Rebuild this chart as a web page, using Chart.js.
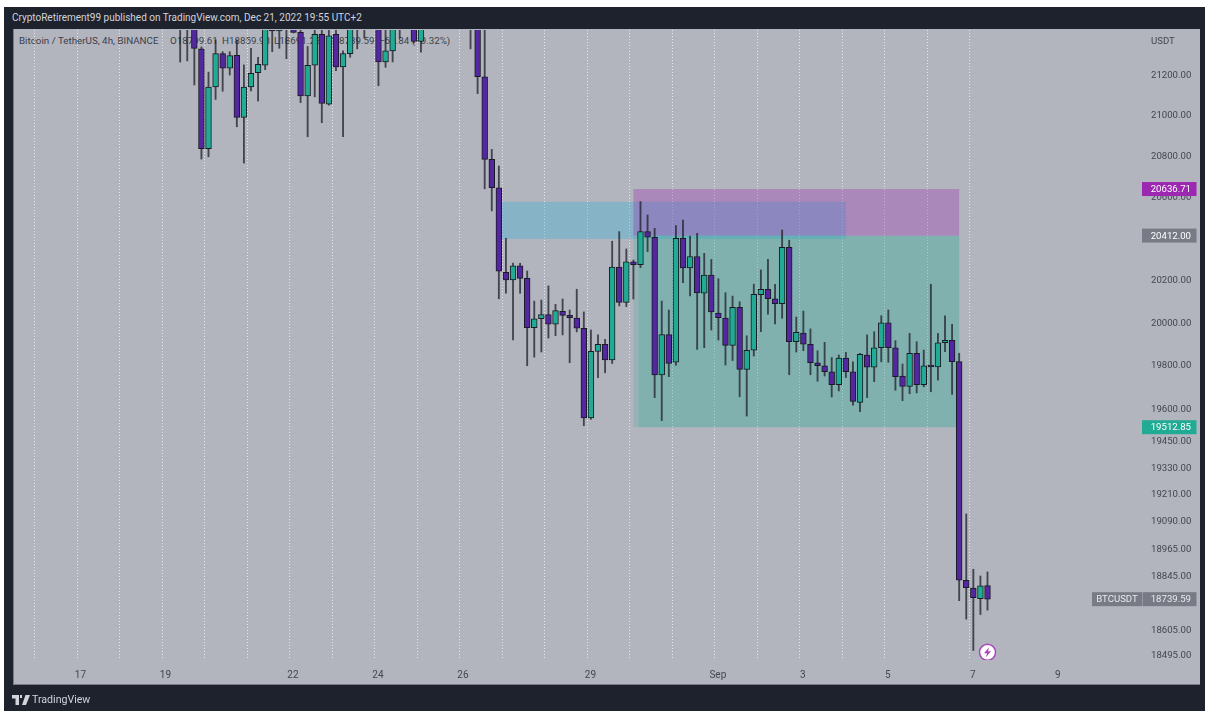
<!DOCTYPE html>
<html>
<head>
<meta charset="utf-8">
<title>BTCUSDT 4h</title>
<script src="https://cdn.jsdelivr.net/npm/chart.js@4"></script>
<style>
  html, body { margin: 0; padding: 0; background: #fff; width: 1205px; height: 711px; overflow: hidden; }
  #frame { position: absolute; left: 4px; top: 7px; width: 1201px; height: 704px; background: #1e222d; }
  #panel { position: absolute; left: 13px; top: 29px; width: 1187px; height: 656px; box-sizing: border-box; background: #b2b5be; border-left: 1px solid #787b86; border-bottom: 1px solid #787b86; }
  #chart { position: absolute; left: 0; top: 0; }
  .txt { position: absolute; font-family: Roboto, sans-serif; white-space: pre; }
  #publisher { left: 12px; top: 11px; font-size: 10px; line-height: 14px; color: #d1d4dc; }
  #legend span { position: absolute; top: 34px; font-size: 9.8px; line-height: 14px; color: #3c3f49; white-space: pre; font-family: Roboto, sans-serif; }
  #currency { left: 1151px; top: 34px; font-size: 9.6px; line-height: 14px; color: #434651; }
  #brand { left: 32px; top: 693px; font-size: 10.6px; line-height: 14px; color: #d1d4dc; }
  #logo { position: absolute; left: 12px; top: 695px; }
</style>
</head>
<body>
<div id="frame"></div>
<div id="panel"></div>
<div class="txt" id="publisher">CryptoRetirement99 published on TradingView.com, Dec 21, 2022 19:55 UTC+2</div>
<div id="legend">
  <span style="left:19px">Bitcoin / TetherUS, 4h, BINANCE</span>
  <span style="left:170px">O18799.61</span>
  <span style="left:222px">H18859.98</span>
  <span style="left:274px">L18691.22</span>
  <span style="left:327px">C18739.59</span>
  <span style="left:379px">−60.84 (−0.32%)</span>
</div>
<canvas id="chart" width="1205" height="711"></canvas>
<div class="txt" id="currency">USDT</div>
<svg id="logo" width="18" height="10" viewBox="0 0 36 20"><path fill="#d1d4dc" d="M0 0h14v20H7V7H0zM16 0h4v6h-4zM22 0h14l-8 20h-8l7-20z"/></svg>
<div class="txt" id="brand">TradingView</div>

<script>
// x axis is hours since Aug 16 00:00 (UTC+2), candles are 4h apart
const firstBarHour = 82;
const barStepHours = 4;

// null = candle completely above the visible range
const opens = [
  21560, 21480, 21560, 21328, 20833, 21138, 21304, 21231, 21296, 20987,
  21138, 21209, 21247, 21500, 21418, 21520, 21520, 21411, 21094, 21246,
  21401, 21053, 21401, 21238, 21304, 21560, 21500, null, 21560, 21263,
  21318, 21500, null, 21600, 21365, null, null, null, 21560, null,
  null, 21560, 21500, 21189, 20781, 20643, 20237, 20201, 20268, 20208,
  19975, 20017, 20036, 19991, 20052, 20033, 20020, 19972, 19555, 19864,
  19897, 19824, 20261, 20094, 20286, 20273, 20431, 20404, 19754, 19942,
  19813, 20399, 20258, 20312, 20137, 20224, 20044, 20020, 19892, 20071,
  19780, 19869, 20130, 20156, 20111, 20088, 20356, 19909, 19949, 19897,
  19811, 19797, 19769, 19709, 19832, 19769, 19627, 19846, 19790, 19881,
  19998, 19881, 19749, 19701, 19855, 19709, 19792, 19791, 19904, 19915,
  19816, 18823, 18789, 18742, 18799.61,
];
const highs = [
  21600, 21600, 21600, 21338, 21212, 21373, 21314, 21314, 21373, 21248,
  21331, 21286, 21500, 21540, 21540, 21560, 21560, 21460, 21340, 21470,
  21470, 21470, 21470, 21318, 21520, 21600, 21600, null, 21600, 21450,
  21540, 21580, null, 21640, 21640, null, null, null, 21600, null,
  null, 21600, 21540, 21460, 20830, 20749, 20399, 20280, 20280, 20243,
  20100, 20105, 20172, 20085, 20110, 20058, 20156, 20049, 19964, 19941,
  19920, 20385, 20431, 20348, 20295, 20576, 20511, 20447, 20100, 20058,
  20460, 20487, 20410, 20423, 20327, 20298, 20206, 20140, 20124, 20097,
  19937, 20180, 20248, 20298, 20180, 20439, 20390, 20025, 20053, 19969,
  19867, 19906, 19835, 19847, 19859, 19815, 19855, 19941, 19956, 20031,
  20058, 19914, 19805, 19948, 19909, 19870, 20180, 19948, 20030, 19991,
  19855, 19119, 18872, 18842, 18859.98,
];
const lows = [
  21262, 21268, 21148, 20783, 20794, 21076, 21117, 21197, 20941, 20763,
  21118, 21068, 21224, 21314, 21331, 21279, 21408, 21060, 20892, 21089,
  20961, 21048, 21219, 20892, 21286, 21328, 21382, null, 21144, 21236,
  21263, 21382, null, 21358, 21311, null, null, null, 21425, null,
  null, 21328, 21105, 20638, 20531, 20111, 20137, 19917, 20137, 19797,
  19837, 19861, 19926, 19937, 19941, 19811, 19955, 19520, 19549, 19742,
  19764, 19807, 20077, 20074, 20110, 20259, 20335, 19649, 19543, 19746,
  19799, 20187, 20124, 19873, 19881, 19964, 19917, 19800, 19821, 19653,
  19564, 19842, 19956, 20038, 19992, 20019, 19755, 19861, 19867, 19755,
  19725, 19749, 19652, 19680, 19742, 19614, 19584, 19649, 19723, 19815,
  19813, 19683, 19635, 19667, 19671, 19699, 19676, 19730, 19862, 19664,
  18733, 18652, 18515, 18672, 18691.22,
];
const closes = [
  21480, 21560, 21331, 20833, 21138, 21304, 21231, 21294, 20987, 21138,
  21206, 21251, 21448, 21418, 21500, 21480, 21411, 21094, 21246, 21401,
  21056, 21394, 21238, 21304, 21450, 21500, 21560, null, 21263, 21318,
  21500, 21540, null, 21365, 21600, null, null, null, 21520, null,
  null, 21500, 21189, 20781, 20643, 20242, 20201, 20268, 20208, 19975,
  20017, 20036, 19991, 20055, 20033, 20022, 19972, 19555, 19864, 19897,
  19824, 20261, 20094, 20286, 20273, 20431, 20404, 19754, 19942, 19808,
  20399, 20258, 20312, 20139, 20224, 20049, 20022, 19892, 20071, 19780,
  19869, 20132, 20156, 20111, 20088, 20356, 19909, 19953, 19897, 19811,
  19797, 19769, 19709, 19832, 19769, 19632, 19850, 19790, 19881, 19998,
  19881, 19746, 19701, 19855, 19709, 19796, 19791, 19904, 19915, 19816,
  18823, 18790, 18746, 18798, 18739.59,
];

// one tick per day from Aug 16, only some of them carry a label
const dayLabels = ["", "17", "", "19", "", "", "22", "", "24", "", "26", "", "", "29", "", "", "Sep", "", "3", "", "5", "", "7", "", "9"];
const lastGridHour = 528; // Sep 7, no day lines after that

const priceTicks = [21200, 21000, 20800, 20600, 20200, 20000, 19800, 19600, 19450, 19330, 19210, 19090, 18965, 18845, 18605, 18495];

// position tool drawn on the chart: [fromHour, toHour, topPrice, bottomPrice]
const blueZone = [262, 458, 20575, 20396];
const stopZone = [338, 522, 20636.71, 20412];
const targetZone = [338, 522, 20412, 19512.85];
const targetZoneInner = [341, 522, 20412, 19512.85];

const tagPrices = [20636.71, 20412.0, 19512.85];
const tagColors = ["#9c27b0", "#787b86", "#22ab94"];
const lastPrice = 18739.59;
const lastSymbol = "BTCUSDT";

const alertHour = 538;
const alertPrice = 18507;

const UP_COLOR = "#22ab94";
const DOWN_COLOR = "#52279f";
const FONT = "Roboto, sans-serif";

const bars = opens
  .map((o, i) => ({ o, h: highs[i], l: lows[i], c: closes[i], x: firstBarHour + i * barStepHours }))
  .filter((b) => b.o !== null);

// ---- zones under the candles ----
const zonesPlugin = {
  id: "zones",
  beforeDatasetsDraw(chart) {
    const { ctx, scales } = chart;
    const fill = (zone, color) => {
      const x0 = scales.x.getPixelForValue(zone[0]);
      const x1 = scales.x.getPixelForValue(zone[1]);
      const y0 = scales.y.getPixelForValue(zone[2]);
      const y1 = scales.y.getPixelForValue(zone[3]);
      ctx.fillStyle = color;
      ctx.fillRect(x0, y0, x1 - x0, y1 - y0);
    };
    fill(blueZone, "rgba(38,175,218,0.3)");
    fill(targetZone, "rgba(34,171,148,0.2)");
    fill(targetZoneInner, "rgba(34,171,148,0.17)");
    fill(stopZone, "rgba(156,39,176,0.32)");
  },
};

// ---- price tags on the right axis + alert icon bolt ----
const tagsPlugin = {
  id: "tags",
  afterDraw(chart) {
    const { ctx, scales, chartArea } = chart;
    const left = chartArea.right + 1;
    const tagW = 54.5;
    const tagH = 14;
    ctx.save();
    ctx.font = "9.6px " + FONT;
    ctx.textBaseline = "middle";
    ctx.textAlign = "right";
    tagPrices.forEach((p, i) => {
      const y = scales.y.getPixelForValue(p);
      ctx.fillStyle = tagColors[i];
      ctx.fillRect(left, y - tagH / 2, tagW, tagH);
      ctx.fillStyle = "#fff";
      ctx.fillText(p.toFixed(2), left + 49, y + 0.5);
    });

    const y = scales.y.getPixelForValue(lastPrice);
    ctx.fillStyle = "#787b86";
    ctx.fillRect(left - 50, y - tagH / 2, 50, tagH);
    ctx.fillRect(left + 0.5, y - tagH / 2, tagW - 0.5, tagH);
    ctx.fillStyle = "#e8e9ed";
    ctx.fillText(lastPrice.toFixed(2), left + 49, y + 0.5);
    ctx.textAlign = "center";
    ctx.fillText(lastSymbol, left - 25, y + 0.5);

    // bolt inside the alert circle
    const px = scales.x.getPixelForValue(alertHour);
    const py = scales.y.getPixelForValue(alertPrice);
    ctx.fillStyle = "#ab47bc";
    ctx.beginPath();
    ctx.moveTo(px + 1.5, py - 5);
    ctx.lineTo(px - 3.5, py + 1);
    ctx.lineTo(px - 0.5, py + 1);
    ctx.lineTo(px - 1.5, py + 5);
    ctx.lineTo(px + 3.5, py - 1);
    ctx.lineTo(px + 0.5, py - 1);
    ctx.closePath();
    ctx.fill();
    ctx.restore();
  },
};

const ctx = document.getElementById("chart").getContext("2d");
new Chart(ctx, {
  type: "bar",
  plugins: [zonesPlugin, tagsPlugin],
  data: {
    datasets: [
      {
        // alert marker
        type: "line",
        showLine: false,
        order: 0,
        data: [{ x: alertHour, y: alertPrice }],
        pointRadius: 8,
        pointBackgroundColor: "#ffffff",
        pointBorderColor: "#ab47bc",
        pointBorderWidth: 1.5,
      },
      {
        // bodies
        order: 1,
        grouped: false,
        data: bars.map((b) => ({ x: b.x, y: [b.o, b.c] })),
        backgroundColor: bars.map((b) => (b.c >= b.o ? UP_COLOR : DOWN_COLOR)),
        borderColor: "#1a1a24",
        borderWidth: 1,
        borderSkipped: false,
        barThickness: 5.8,
        minBarLength: 2,
      },
      {
        // wicks
        order: 2,
        grouped: false,
        data: bars.map((b) => ({ x: b.x, y: [b.l, b.h] })),
        backgroundColor: "rgba(25,25,35,0.72)",
        borderWidth: 0,
        barThickness: 1.2,
      },
    ],
  },
  options: {
    responsive: false,
    animation: false,
    events: [],
    layout: { autoPadding: false, padding: { left: 14, top: 30, right: 4, bottom: 26 } },
    plugins: { legend: { display: false }, tooltip: { enabled: false } },
    scales: {
      x: {
        type: "linear",
        offset: false,
        min: -11.86,
        max: 624.7,
        afterBuildTicks: (scale) => {
          scale.ticks = dayLabels.map((_, i) => ({ value: i * 24 }));
        },
        afterFit: (scale) => {
          scale.height = 25;
        },
        grid: {
          offset: false,
          drawTicks: false,
          lineWidth: 1,
          color: (c) => (c.tick && c.tick.value <= lastGridHour ? "rgba(255,255,255,0.65)" : "rgba(0,0,0,0)"),
        },
        border: { display: false, dash: [1, 2] },
        ticks: {
          autoSkip: false,
          maxRotation: 0,
          minRotation: 0,
          padding: 9,
          labelOffset: 3,
          color: "#434651",
          font: { family: FONT, size: 10 },
          callback: (v, i) => dayLabels[i],
        },
      },
      y: {
        type: "logarithmic",
        position: "right",
        min: 18473.5,
        max: 21423,
        beginAtZero: false,
        afterBuildTicks: (scale) => {
          scale.ticks = priceTicks.map((value) => ({ value }));
        },
        afterFit: (scale) => {
          scale.width = 60;
        },
        grid: { display: false, drawTicks: false },
        border: { display: false },
        ticks: {
          autoSkip: false,
          crossAlign: "near",
          padding: 10,
          labelOffset: 1,
          color: "#434651",
          font: { family: FONT, size: 9.6 },
          callback: (v) => Number(v).toFixed(2),
        },
      },
    },
  },
});
</script>
</body>
</html>
